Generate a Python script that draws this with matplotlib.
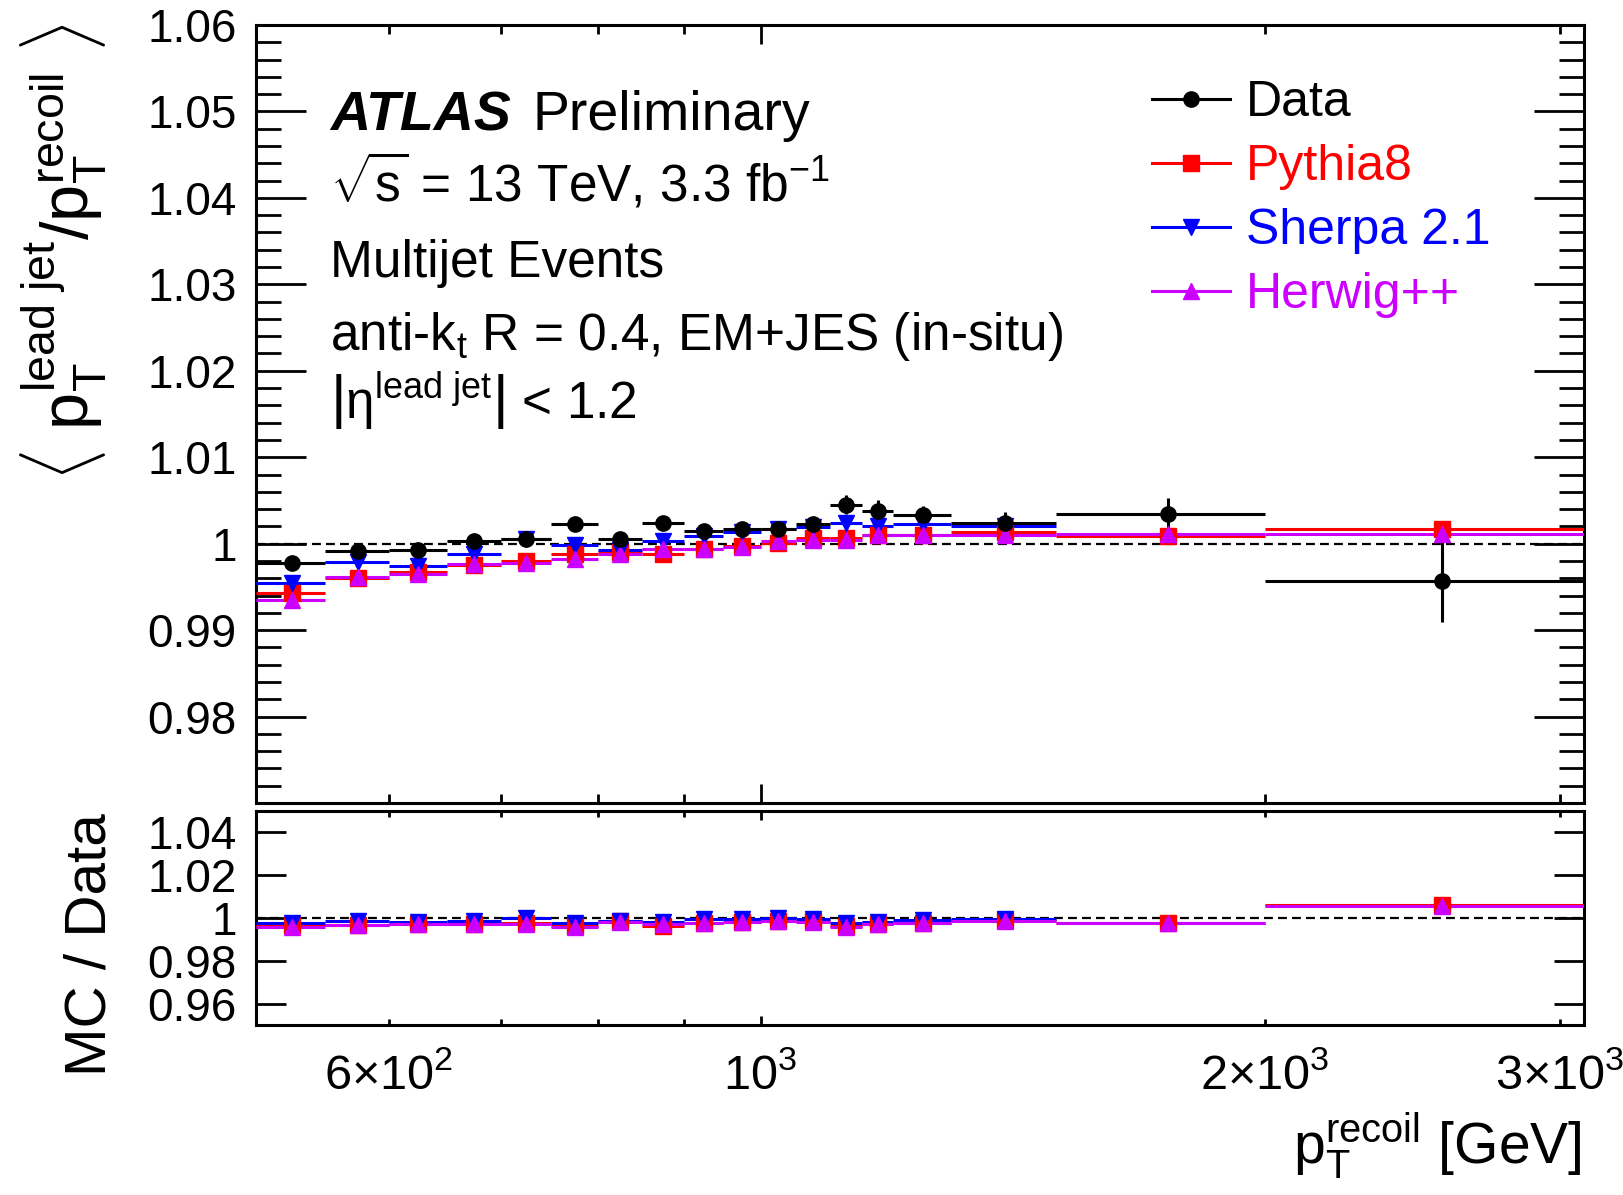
import matplotlib
matplotlib.use('Agg')
import matplotlib.pyplot as plt
import numpy as np
from matplotlib.lines import Line2D
from matplotlib.ticker import MultipleLocator

plt.rcParams['font.family'] = 'Liberation Sans'
plt.rcParams['mathtext.fontset'] = 'custom'
plt.rcParams['mathtext.rm'] = 'Liberation Sans'
plt.rcParams['mathtext.it'] = 'Liberation Sans:italic'
plt.rcParams['mathtext.bf'] = 'Liberation Sans:bold'
plt.rcParams['mathtext.default'] = 'regular'

# pT recoil binning [GeV]
bin_edges = [500, 550, 600, 650, 700, 750, 800, 850, 900, 950, 1000,
             1050, 1100, 1150, 1200, 1300, 1500, 2000, 3100]
bin_centres = [525, 575, 625, 675, 725, 775, 825, 875, 925, 975, 1025,
               1075, 1125, 1175, 1250, 1400, 1750, 2550]

# < pT lead jet / pT recoil >
data_vals = [0.99775, 0.99919, 0.99930, 1.00035, 1.00054, 1.00233, 1.00058, 1.00240, 1.00152,
             1.00170, 1.00172, 1.00225, 1.00453, 1.00376, 1.00337, 1.00244, 1.00343, 0.99572]
data_errs = [0.0003, 0.0003, 0.0003, 0.0003, 0.0004, 0.0004, 0.0004, 0.0005, 0.0005,
             0.0005, 0.0006, 0.0008, 0.0011, 0.0013, 0.0010, 0.0012, 0.0018, 0.0048]
pythia_vals = [0.99434, 0.99600, 0.99671, 0.99756, 0.99802, 0.99880, 0.99903, 0.99880, 0.99940,
               0.99969, 1.00010, 1.00066, 1.00070, 1.00100, 1.00100, 1.00140, 1.00090, 1.00170]
sherpa_vals = [0.99543, 0.99787, 0.99736, 0.99884, 1.00058, 0.99988, 0.99930, 1.00030, 1.00090,
               1.00140, 1.00170, 1.00190, 1.00240, 1.00200, 1.00230, 1.00210]
herwig_vals = [0.99345, 0.99612, 0.99651, 0.99760, 0.99775, 0.99826, 0.99884, 0.99940, 0.99938,
               0.99961, 1.00027, 1.00040, 1.00047, 1.00100, 1.00100, 1.00100, 1.00110, 1.00116]

x_major = [1000]
x_major_labels = [r'$10^{3}$']
x_minor = [600, 700, 800, 900, 2000, 3000]
x_minor_labels = [r'$6{\times}10^{2}$', '', '', '', r'$2{\times}10^{3}$', r'$3{\times}10^{3}$']
y_top_ticks = [0.98, 0.99, 1.00, 1.01, 1.02, 1.03, 1.04, 1.05, 1.06]
y_top_labels = ['0.98', '0.99', '1', '1.01', '1.02', '1.03', '1.04', '1.05', '1.06']
y_bot_ticks = [0.96, 0.98, 1.00, 1.02, 1.04]
y_bot_labels = ['0.96', '0.98', '1', '1.02', '1.04']

MAGENTA = '#cc00ff'
series = [
    ('Pythia8', pythia_vals, 'red', 's', 11),
    ('Sherpa 2.1', sherpa_vals, 'blue', 'v', 12),
    ('Herwig++', herwig_vals, MAGENTA, '^', 12),
]

edges = np.array(bin_edges, dtype=float)
centres = np.array(bin_centres, dtype=float)
data = np.array(data_vals)

fig = plt.figure(figsize=(16.24, 11.95), dpi=100)
ax1 = fig.add_axes([256/1624, 1-803/1195, 1328/1624, 778/1195])
ax2 = fig.add_axes([256/1624, 1-1025/1195, 1328/1624, 214/1195])

LW = 2.2
for ax in (ax1, ax2):
    ax.axhline(1.0, color='k', lw=1.6, ls=(0, (4, 2.3)), zorder=1)


def draw(ax, y, color, marker, ms, yerr=None):
    n = len(y)
    x = centres[:n]
    lo = x - edges[:n]
    hi = edges[1:n+1] - x
    ax.errorbar(x, y, xerr=[lo, hi], yerr=yerr, fmt=marker, color=color,
                mec=color, mfc=color, ms=ms, lw=LW, capsize=0, zorder=3)


for name, vals, color, marker, ms in series:
    draw(ax1, np.array(vals), color, marker, ms)
    n = len(vals)
    draw(ax2, np.array(vals) / data[:n], color, marker, ms)
draw(ax1, data, 'k', 'o', 11, yerr=data_errs)

# axes
for ax in (ax1, ax2):
    ax.set_xscale('log')
    ax.set_xlim(500, 3100)
    ax.set_xticks(x_major, x_major_labels)
    ax.set_xticks(x_minor, x_minor_labels, minor=True)
    for sp in ax.spines.values():
        sp.set_linewidth(LW)

ax1.set_ylim(0.97, 1.06)
ax1.set_yticks(y_top_ticks, y_top_labels)
ax1.yaxis.set_minor_locator(MultipleLocator(0.002))
ax1.tick_params(axis='x', which='major', direction='in', length=13.7, width=2, top=True, labelbottom=False)
ax1.tick_params(axis='x', which='minor', direction='in', length=6.5, width=2, top=True, labelbottom=False)
ax1.tick_params(axis='y', which='major', direction='in', length=36, width=2, right=True, labelsize=33, pad=14)
ax1.tick_params(axis='y', which='minor', direction='in', length=18, width=2, right=True)

ax2.set_ylim(0.95, 1.05)
ax2.set_yticks(y_bot_ticks, y_bot_labels)
ax2.tick_params(axis='x', which='major', direction='in', length=6.5, width=2, top=True, labelsize=35, pad=20)
ax2.tick_params(axis='x', which='minor', direction='in', length=4.5, width=2, top=True, labelsize=35, pad=20)
ax2.tick_params(axis='y', which='major', direction='in', length=21.6, width=2, right=True, labelsize=33, pad=14)

# labels
fig.text(18/1624, 1-24/1195, r'$\left\langle\ p_{T}^{lead\ jet}/p_{T}^{recoil}\ \right\rangle$',
         rotation=90, ha='left', va='top', fontsize=48)
fig.text(91/1624, 1-813/1195, 'MC / Data', rotation=90, ha='center', va='top', fontsize=42)
fig.text(1582/1624, 1-1163/1195, r'$p_{T}^{recoil}$ [GeV]', ha='right', va='baseline', fontsize=41)

# ATLAS label block
tx = 0.0557
ax1.text(tx, 0.865, 'ATLAS', fontsize=40, weight='bold', style='italic', transform=ax1.transAxes)
ax1.text(0.208, 0.865, 'Preliminary', fontsize=40, transform=ax1.transAxes)
ax1.text(tx, 0.7725, r'$\sqrt{s}$ = 13 TeV, 3.3 fb$^{-1}$', fontsize=37, transform=ax1.transAxes)
ax1.text(tx, 0.676, 'Multijet Events', fontsize=37, transform=ax1.transAxes)
ax1.text(tx, 0.582, r'anti-$k_{t}$ R = 0.4, EM+JES (in-situ)', fontsize=37, transform=ax1.transAxes)
ax1.text(tx, 0.4936, r'$\left|\eta^{lead\ jet}\right|$ < 1.2', fontsize=37, transform=ax1.transAxes)

# legend
handles = [Line2D([], [], color='k', marker='o', ms=11, lw=LW)]
labels = ['Data']
for name, vals, color, marker, ms in series:
    handles.append(Line2D([], [], color=color, marker=marker, ms=ms, lw=LW))
    labels.append(name)
ax1.legend(handles, labels, loc='upper left', bbox_to_anchor=(0.6747, 0.929), frameon=False,
           fontsize=36, handlelength=1.55, handletextpad=0.33, labelspacing=0.36,
           borderpad=0, borderaxespad=0, labelcolor=['k', 'red', 'blue', MAGENTA])

fig.savefig('out.png', dpi=100)
